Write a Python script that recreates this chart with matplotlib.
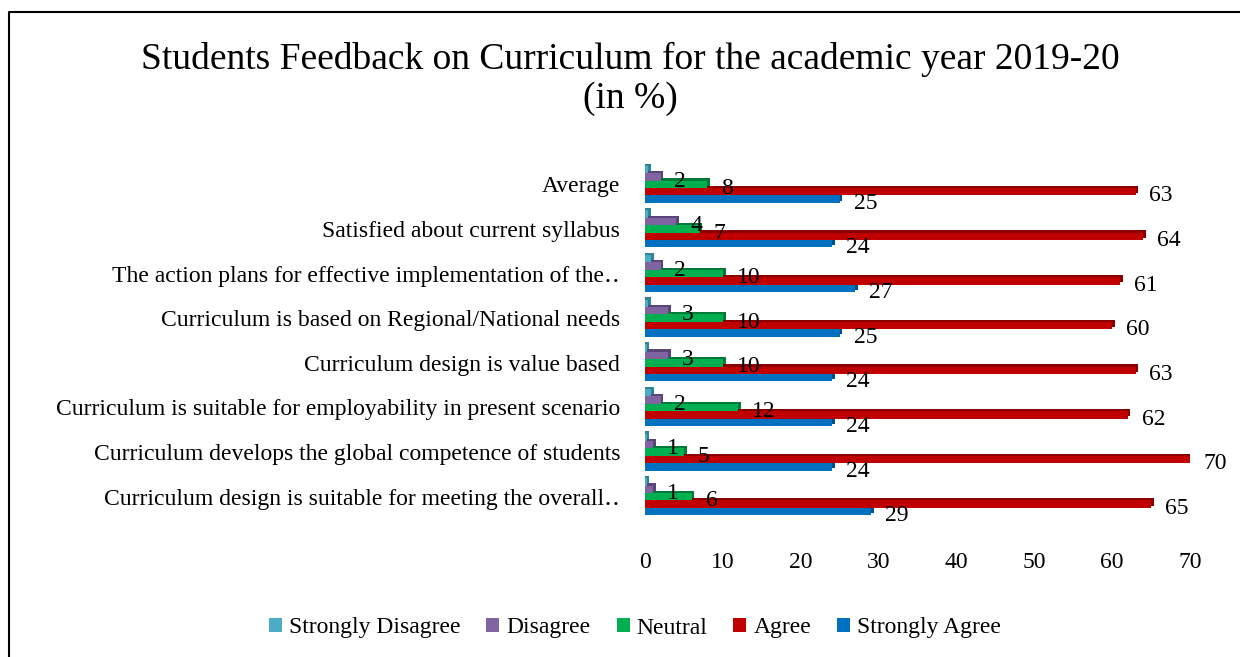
import matplotlib
matplotlib.use("Agg")

import matplotlib.pyplot as plt
import numpy as np
from matplotlib.lines import Line2D
from matplotlib.patches import Patch

plt.rcParams["font.family"] = ["Liberation Serif", "DejaVu Serif"]

# categories listed top to bottom as in the chart
CATEGORIES = [
    "Average",
    "Satisfied about current syllabus",
    "The action plans for effective implementation of the\u2025",
    "Curriculum is based on Regional/National needs",
    "Curriculum design is value based",
    "Curriculum is suitable for employability in present scenario",
    "Curriculum develops the global competence of students",
    "Curriculum design is suitable for meeting the overall\u2025",
]
SERIES = ["Strongly Disagree", "Disagree", "Neutral", "Agree", "Strongly Agree"]
COLORS = ["#4BACC6", "#8064A2", "#00B050", "#C00000", "#0070C0"]
DEPTH_COLORS = ["#2E8299", "#5A4578", "#007A38", "#8A0000", "#004F8A"]

strongly_disagree = [0.4, 0.4, 0.8, 0.4, 0.2, 0.8, 0.2, 0.2]   # no labels shown
disagree = [2, 4, 2, 3, 3, 2, 1, 1]
neutral = [8, 7, 10, 10, 10, 12, 5, 6]
agree = [63, 64, 61, 60, 63, 62, 70, 65]
strongly_agree = [25, 24, 27, 25, 24, 24, 24, 29]

VALUES = [strongly_disagree, disagree, neutral, agree, strongly_agree]
LABELLED = [False, True, True, True, True]

W, H = 1240, 657
FS = 17
fig = plt.figure(figsize=(W / 100, H / 100), dpi=100)
ax = fig.add_axes([645 / W, 1 - 519 / H, 545 / W, 357 / H])

n = len(CATEGORIES)
ypos = np.arange(n)[::-1]          # first category on top
h = 0.166
offsets = [2 * h, h, 0, -h, -2 * h]

for vals, col, dcol, off, lab in zip(VALUES, COLORS, DEPTH_COLORS, offsets, LABELLED):
    vals = np.array(vals, dtype=float)
    # fake 3d depth: darker copy shifted right/up behind the face
    ax.barh(ypos + off + 0.05, vals + 0.35, height=h, color=dcol, zorder=2)
    bars = ax.barh(ypos + off, vals, height=h, color=col, zorder=3)
    if lab:
        for b, v in zip(bars, vals):
            ax.annotate(f"{v:.0f}", (b.get_width(), b.get_y() + b.get_height() / 2),
                        xytext=(10, -3), textcoords="offset points",
                        ha="left", va="center", fontsize=FS, zorder=5)

ax.set_xlim(0, 70)
ax.set_ylim(-0.5, n - 0.5)
ax.set_xticks(np.arange(0, 71, 10))
ax.set_yticks(ypos)
ax.set_yticklabels(CATEGORIES)
ax.tick_params(axis="x", length=0, pad=24, labelsize=FS)
ax.tick_params(axis="y", length=0, pad=18, labelsize=FS)
for s in ax.spines.values():
    s.set_visible(False)

fig.text(630 / W, 1 - 79 / H,
         "Students Feedback on Curriculum for the academic year 2019-20\n(in %)",
         ha="center", va="center", fontsize=27, linespacing=1.15)

handles = [Patch(facecolor=c, edgecolor="none") for c in COLORS]
fig.legend(handles, SERIES, loc="center", bbox_to_anchor=(635 / W, 1 - 628 / H),
           ncol=5, frameon=False, fontsize=FS, handlelength=0.55, handleheight=0.55,
           handletextpad=0.3, columnspacing=1.1)

# outer chart border (left and top edges visible)
fig.add_artist(Line2D([9 / W, 9 / W, 1], [0, 1 - 12 / H, 1 - 12 / H],
                      transform=fig.transFigure, color="black", lw=1.5))

fig.savefig("out.png", dpi=100)
plt.close(fig)
